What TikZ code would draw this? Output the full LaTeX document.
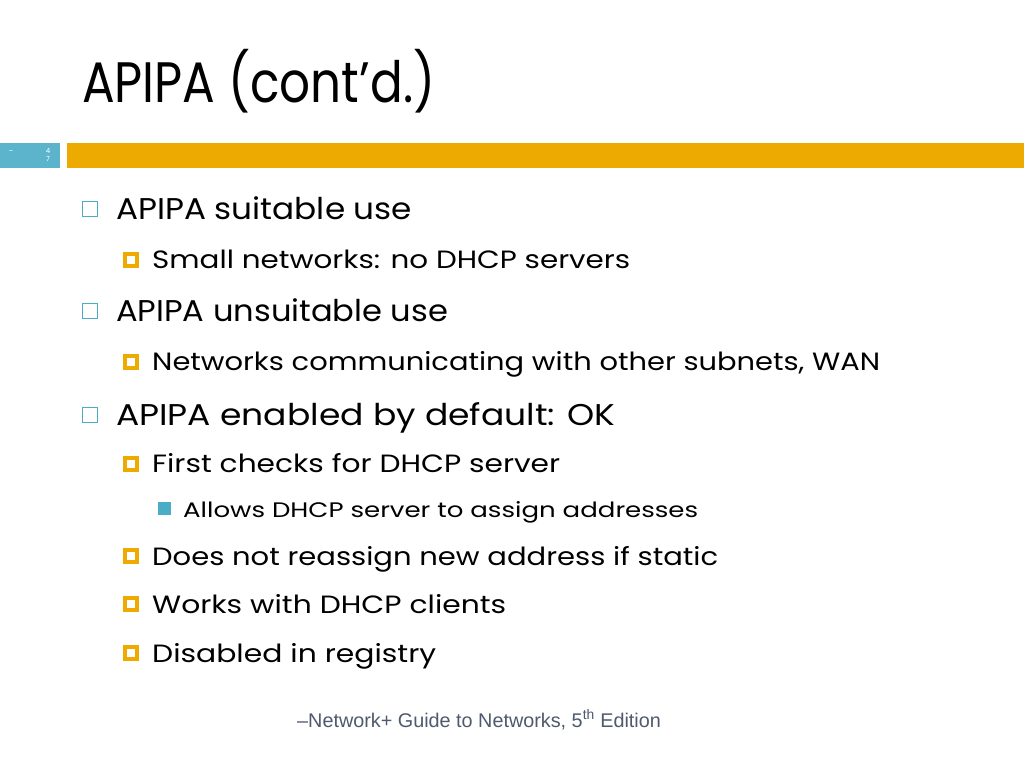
\documentclass[tikz,border=0pt]{standalone}
\usepackage{graphicx}
\usepackage{fontspec}
\setmainfont{Poppins}
\newfontfamily\footfont{Liberation Sans}
\definecolor{barblue}{HTML}{5BB4CC}
\definecolor{barorange}{HTML}{EDAA00}
\definecolor{bulblue}{HTML}{4BACC6}
\definecolor{footgray}{HTML}{4F5A6E}
\newcommand{\fitw}[2]{\resizebox{#1pt}{\height}{#2}}
\tikzset{
  lone/.style={anchor=base west, inner sep=0pt, font=\fontsize{30}{32}\selectfont},
  ltwo/.style={anchor=base west, inner sep=0pt, font=\fontsize{25}{27}\selectfont},
  lthree/.style={anchor=base west, inner sep=0pt, font=\fontsize{21}{23}\selectfont},
  bone/.style={draw=bulblue, line width=1.3pt, minimum size=15pt, inner sep=0pt},
  btwo/.style={fill=barorange, minimum size=16pt, inner sep=0pt, path picture={\fill[white] ([shift={(-4pt,-4pt)}]path picture bounding box.center) rectangle ([shift={(4pt,4pt)}]path picture bounding box.center);}},
  bthree/.style={fill=bulblue, minimum size=13pt, inner sep=0pt},
  tiny/.style={text=white, font=\fontsize{7}{7}\selectfont, inner sep=0pt},
}
\begin{document}
\begin{tikzpicture}[x=1pt,y=-1pt]
\useasboundingbox (0,0) rectangle (1024,768);
\fill[white] (0,0) rectangle (1024,768);
% title
\node[anchor=base west, inner sep=0pt, font=\fontsize{57}{60}\selectfont] (title) at (82,102) {\fitw{353}{APIPA (cont’d.)}};
% bars
\fill[barblue] (0,143) rectangle (60,168);
\fill[barorange] (67,143) rectangle (1024,168);
\node[tiny] (dash) at (11,152) {–};
\node[tiny] (pa) at (48,151) {4};
\node[tiny] (pb) at (48,159) {7};
% items
\node[bone] (b1) at (90,209) {};
\node[lone] (t1) at (116,219) {\fitw{296}{APIPA suitable use}};
\node[btwo] (b2) at (131,260) {};
\node[ltwo] (t2) at (152,268) {\fitw{478}{Small networks: no DHCP servers}};
\node[bone] (b3) at (90,311) {};
\node[lone] (t3) at (116,321) {\fitw{332}{APIPA unsuitable use}};
\node[btwo] (b4) at (131,362) {};
\node[ltwo] (t4) at (152,370) {\fitw{728}{Networks communicating with other subnets, WAN}};
\node[bone] (b5) at (90,415) {};
\node[lone] (t5) at (116,425) {\fitw{499}{APIPA enabled by default: OK}};
\node[btwo] (b6) at (131,464) {};
\node[ltwo] (t6) at (152,472) {\fitw{408}{First checks for DHCP server}};
\node[bthree] (b7) at (164,508) {};
\node[lthree] (t7) at (183,517) {\fitw{515}{Allows DHCP server to assign addresses}};
\node[btwo] (b8) at (131,556) {};
\node[ltwo] (t8) at (152,565) {\fitw{566}{Does not reassign new address if static}};
\node[btwo] (b9) at (131,604) {};
\node[ltwo] (t9) at (152,613) {\fitw{354}{Works with DHCP clients}};
\node[btwo] (b10) at (131,653) {};
\node[ltwo] (t10) at (152,662) {\fitw{284}{Disabled in registry}};
% footer
\node[anchor=base west, inner sep=0pt, text=footgray, font=\footfont\fontsize{19.8}{21}\selectfont] (foot) at (297,727) {–Network+ Guide to Networks, 5\textsuperscript{th} Edition};
\end{tikzpicture}
\end{document}
